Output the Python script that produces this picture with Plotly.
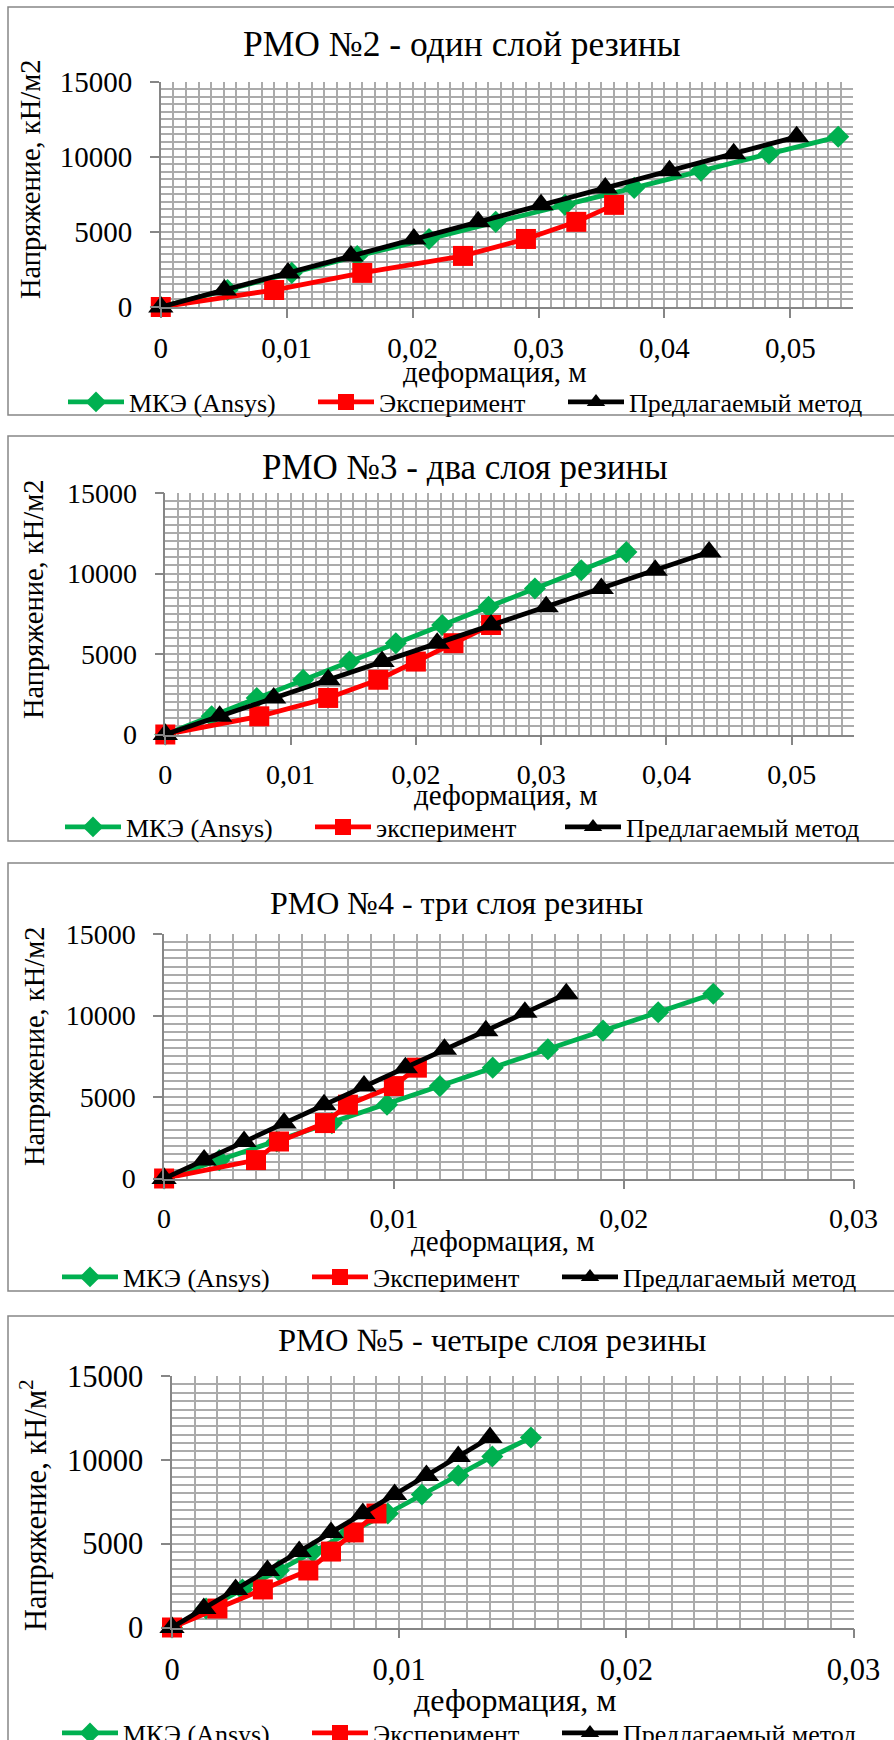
import plotly.graph_objects as go

# ---------------- data ----------------
series_names = ["МКЭ (Ansys)", "Эксперимент", "Предлагаемый метод"]
chart_titles = ["РМО №2 - один слой резины", "РМО №3 - два слоя резины",
                "РМО №4 - три слоя резины", "РМО №5 - четыре слоя резины"]
exp_names = ["Эксперимент", "эксперимент", "Эксперимент", "Эксперимент"]
y_titles = ["Напряжение, кН/м2", "Напряжение, кН/м2", "Напряжение, кН/м2",
            "Напряжение, кН/м<sup>2</sup>"]
x_title = "деформация, м"

# stress (кН/м2) at load steps
load = [0, 1130, 2270, 3400, 4530, 5670, 6800, 7930, 9070, 10200, 11330]
load_exp = [0, 1130, 2270, 3400, 4530, 5670, 6800]

# РМО №2
c1_fem_x = [0, 0.0053, 0.0104, 0.0156, 0.0213, 0.0266, 0.0321, 0.0376, 0.0429, 0.0483, 0.0538]
c1_exp_x = [0, 0.009, 0.016, 0.024, 0.029, 0.033, 0.036]
c1_new_x = [0, 0.00505, 0.0101, 0.0151, 0.0201, 0.0252, 0.0302, 0.0353, 0.0404, 0.0455, 0.0505]
# РМО №3
c2_fem_x = [0, 0.0037, 0.0073, 0.0110, 0.0147, 0.0184, 0.0221, 0.0258, 0.0295, 0.0332, 0.0368]
c2_exp_x = [0, 0.0075, 0.013, 0.017, 0.020, 0.023, 0.026]
c2_new_x = [0, 0.00434, 0.00865, 0.0130, 0.0173, 0.0217, 0.0260, 0.0304, 0.0348, 0.0391, 0.0434]
# РМО №4
c3_fem_x = [0, 0.0024, 0.0049, 0.0073, 0.0097, 0.0120, 0.0143, 0.0167, 0.0191, 0.0215, 0.0239]
c3_exp_x = [0, 0.004, 0.005, 0.007, 0.008, 0.010, 0.011]
c3_new_x = [0, 0.00174, 0.00348, 0.00522, 0.00696, 0.0087, 0.0105, 0.0122, 0.0140, 0.0157, 0.0175]
# РМО №5
c4_fem_x = [0, 0.0015, 0.0031, 0.0047, 0.0062, 0.0078, 0.0095, 0.0110, 0.0126, 0.0141, 0.0158]
c4_exp_x = [0, 0.002, 0.004, 0.006, 0.007, 0.008, 0.009]
c4_new_x = [0, 0.0014, 0.0028, 0.0042, 0.0056, 0.0070, 0.0084, 0.0098, 0.0112, 0.0126, 0.0140]

x_max = [0.055, 0.055, 0.03, 0.03]
y_max = 15000
x_major, x_minor = 0.01, 0.001
y_major, y_minor = 5000, 500

fem_xs = [c1_fem_x, c2_fem_x, c3_fem_x, c4_fem_x]
exp_xs = [c1_exp_x, c2_exp_x, c3_exp_x, c4_exp_x]
new_xs = [c1_new_x, c2_new_x, c3_new_x, c4_new_x]

# ---------------- geometry / style (pixels) ----------------
W, H = 894, 1740
FONT = "Liberation Serif, Tinos, 'Times New Roman', serif"
GREEN, RED, BLACK = "#00B050", "#FF0000", "#000000"
GRID = "#ABABAB"
AXC = "#868686"

geo = [
    dict(px=(160.8, 853.3), py=(81.7, 307.0), box=(7, 415), title=(462, 44, 35.5),
         xt=(495, 372, 29), yt=(31, 180, 28.5), leg=(63, 402), tick=29),
    dict(px=(165.3, 854.4), py=(493.0, 734.5), box=(436, 841), title=(465, 467, 35),
         xt=(506, 795, 29), yt=(33, 600, 28.5), leg=(60, 827), tick=28),
    dict(px=(164.1, 853.5), py=(934.0, 1178.5), box=(863, 1291), title=(457, 903, 32),
         xt=(503, 1241, 29), yt=(34, 1047, 28.5), leg=(57, 1277), tick=28),
    dict(px=(172.0, 853.5), py=(1376.0, 1627.5), box=(1316, 1800), title=(492, 1340, 32.5),
         xt=(515, 1700, 32), yt=(33, 1505, 30.5), leg=(57, 1733), tick=30.5),
]
legend_widths = [179, 179, 250]

fig = go.Figure()
annotations = []
shapes = []
layout_axes = {}
legends = {}

for i in range(4):
    g = geo[i]
    sfx = "" if i == 0 else str(i + 1)
    xref, yref = "x" + sfx, "y" + sfx
    leg = "legend" + sfx
    names = [series_names[0], exp_names[i], series_names[2]]

    fig.add_trace(go.Scatter(
        x=fem_xs[i], y=load, mode="lines+markers", name=names[0],
        line=dict(color=GREEN, width=4.8),
        marker=dict(symbol="diamond", size=17, color=GREEN),
        xaxis=xref, yaxis=yref, legend=leg, legendwidth=legend_widths[0],
        cliponaxis=False))
    fig.add_trace(go.Scatter(
        x=exp_xs[i], y=load_exp, mode="lines+markers", name=names[1],
        line=dict(color=RED, width=4.8),
        marker=dict(symbol="square", size=20, color=RED),
        xaxis=xref, yaxis=yref, legend=leg, legendwidth=legend_widths[1],
        cliponaxis=False))
    fig.add_trace(go.Scatter(
        x=new_xs[i], y=load, mode="lines+markers", name=names[2],
        line=dict(color=BLACK, width=4.8),
        marker=dict(symbol="triangle-up", size=22, color=BLACK),
        xaxis=xref, yaxis=yref, legend=leg, legendwidth=legend_widths[2],
        cliponaxis=False))

    common = dict(showline=True, linecolor=AXC, linewidth=1.5, ticks="outside",
                  ticklen=9, tickwidth=1.5, tickcolor=AXC, showgrid=True,
                  gridcolor=GRID, gridwidth=1.5, zeroline=False, fixedrange=True,
                  tickfont=dict(family=FONT, size=g["tick"], color="black"))
    layout_axes["xaxis" + sfx] = dict(
        common, domain=[g["px"][0] / W, g["px"][1] / W], range=[0, x_max[i]],
        tick0=0, dtick=x_major, tickformat=".2~f", anchor=yref,
        minor=dict(dtick=x_minor, showgrid=True, gridcolor=GRID, gridwidth=1.5),
        ticklabelstandoff=5)
    layout_axes["yaxis" + sfx] = dict(
        common, domain=[1 - g["py"][1] / H, 1 - g["py"][0] / H], range=[0, y_max],
        tick0=0, dtick=y_major, tickformat="d", anchor=xref,
        minor=dict(dtick=y_minor, showgrid=True, gridcolor=GRID, gridwidth=1.5),
        ticklabelstandoff=12)

    legends[leg] = dict(orientation="h", x=g["leg"][0] / W, y=1 - g["leg"][1] / H,
                        xanchor="left", yanchor="middle", bgcolor="rgba(0,0,0,0)",
                        font=dict(family=FONT, size=26, color="black"),
                        itemwidth=56, tracegroupgap=0)

    tx, ty, ts = g["title"]
    annotations.append(dict(text=chart_titles[i], x=tx / W, y=1 - ty / H,
                            xref="paper", yref="paper", showarrow=False,
                            xanchor="center", yanchor="middle",
                            font=dict(family=FONT, size=ts, color="black")))
    ax_, ay_, as_ = g["xt"]
    annotations.append(dict(text=x_title, x=ax_ / W, y=1 - ay_ / H,
                            xref="paper", yref="paper", showarrow=False,
                            xanchor="center", yanchor="middle",
                            font=dict(family=FONT, size=as_, color="black")))
    yx_, yy_, ys_ = g["yt"]
    annotations.append(dict(text=y_titles[i], x=yx_ / W, y=1 - yy_ / H,
                            xref="paper", yref="paper", showarrow=False,
                            textangle=-90, xanchor="center", yanchor="middle",
                            font=dict(family=FONT, size=ys_, color="black")))
    b0, b1 = g["box"]
    shapes.append(dict(type="rect", xref="paper", yref="paper",
                       x0=8 / W, x1=1.05, y0=1 - b1 / H, y1=1 - b0 / H,
                       line=dict(color=AXC, width=1.5), fillcolor="rgba(0,0,0,0)",
                       layer="below"))

fig.update_layout(
    width=W, height=H, margin=dict(l=0, r=0, t=0, b=0, autoexpand=False),
    paper_bgcolor="white", plot_bgcolor="white", separators=", ",
    font=dict(family=FONT),
    annotations=annotations, shapes=shapes, showlegend=True,
    **layout_axes, **legends)

fig.write_html("out.html", config={"displayModeBar": False},
               post_script="document.body.style.margin='0px';document.body.style.padding='0px';")
